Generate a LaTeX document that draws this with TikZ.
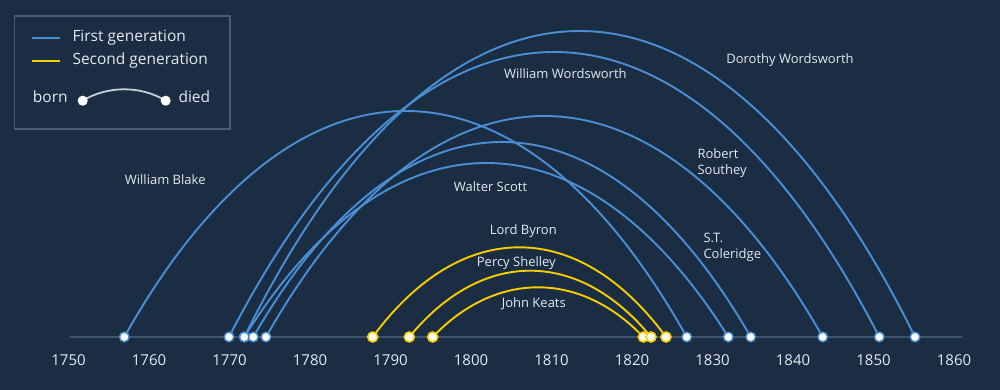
\documentclass[tikz,border=0pt]{standalone}
\usepackage{fontspec}
\setmainfont{Open Sans}
\definecolor{bgc}{HTML}{1B2D42}
\definecolor{axisc}{HTML}{3E546D}
\definecolor{bluec}{HTML}{4A8FD6}
\definecolor{yelc}{HTML}{F7CD00}
\definecolor{txtc}{HTML}{E4E9EE}
\definecolor{boxc}{HTML}{485C72}
\definecolor{legarc}{HTML}{C5CDD6}
\pgfdeclarelayer{bgl}
\pgfdeclarelayer{back}
\pgfsetlayers{bgl,back,main}
\tikzset{
  blueline/.style={draw=bluec, line width=1.9pt},
  yelline/.style={draw=yelc, line width=1.9pt},
  bdot/.style={circle, fill=white, draw=bluec, line width=1.4pt, minimum size=9.5pt, inner sep=0pt},
  ydot/.style={circle, fill=white, draw=yelc, line width=1.6pt, minimum size=10pt, inner sep=0pt},
  ldot/.style={circle, fill=white, draw=white, line width=1pt, minimum size=9pt, inner sep=0pt},
  yearlab/.style={text=txtc, font=\fontsize{15}{18}\selectfont, inner sep=0pt, text height=0.72em, text depth=0pt},
  namelab/.style={text=txtc, font=\fontsize{13}{16}\selectfont, inner sep=0pt, text height=0.72em, text depth=0pt},
  leglab/.style={text=txtc, font=\fontsize{15.5}{18}\selectfont, inner sep=0pt, text height=0.72em, text depth=0pt, anchor=west},
  axisline/.style={draw=axisc, line width=2pt},
  legbox/.style={draw=boxc, line width=1.2pt},
}
\newcommand\lifearc[6]{%
  \pgfmathsetmacro\ctla{#3+0.3*(#4-#3)}%
  \pgfmathsetmacro\ctlb{#4-0.3*(#4-#3)}%
  \pgfmathsetmacro\ctlh{53+4*#5/3}%
  \draw[#6] (#1.center) .. controls (\ctla,\ctlh) and (\ctlb,\ctlh) .. (#2.center);%
}
\begin{document}
\begin{tikzpicture}[x=1pt,y=1pt]
\begin{pgfonlayer}{bgl}
\fill[bgc] (0,0) rectangle (1000,390);
\end{pgfonlayer}
\useasboundingbox (0,0) rectangle (1000,390);

% axis
\coordinate (axL) at (70,53);
\coordinate (axR) at (962,53);
\begin{pgfonlayer}{back}
\draw[axisline] (axL) -- (axR);
\end{pgfonlayer}
\foreach \yr [count=\i from 0] in {1750,1760,1770,1780,1790,1800,1810,1820,1830,1840,1850,1860}{
  \node[yearlab] (y\yr) at ({68.5+80.5*\i},28) {\yr};
}

% dots: born / died
\node[bdot] (blakeB) at (124.3,53) {};
\node[bdot] (wwB) at (229,53) {};
\node[bdot] (dwB) at (244.3,53) {};
\node[bdot] (scottB) at (244.3,53) {};
\node[bdot] (colB) at (253.3,53) {};
\node[bdot] (southB) at (266,53) {};
\node[ydot] (byronB) at (372.7,53) {};
\node[ydot] (shelB) at (409.3,53) {};
\node[ydot] (keatsB) at (432.7,53) {};
\node[ydot] (keatsD) at (643.3,53) {};
\node[ydot] (shelD) at (651,53) {};
\node[ydot] (byronD) at (666,53) {};
\node[bdot] (blakeD) at (686.7,53) {};
\node[bdot] (scottD) at (728.3,53) {};
\node[bdot] (colD) at (750.7,53) {};
\node[bdot] (southD) at (822.7,53) {};
\node[bdot] (wwD) at (879.3,53) {};
\node[bdot] (dwD) at (915,53) {};

\begin{pgfonlayer}{back}
\lifearc{blakeB}{blakeD}{124.3}{686.7}{226}{blueline}
\lifearc{wwB}{wwD}{229}{879.3}{285}{blueline}
\lifearc{dwB}{dwD}{244.3}{915}{306}{blueline}
\lifearc{scottB}{scottD}{244.3}{728.3}{174}{blueline}
\lifearc{colB}{colD}{253.3}{750.7}{195}{blueline}
\lifearc{southB}{southD}{266}{822.7}{221}{blueline}
\lifearc{byronB}{byronD}{372.7}{666}{89.7}{yelline}
\lifearc{shelB}{shelD}{409.3}{651}{66.3}{yelline}
\lifearc{keatsB}{keatsD}{432.7}{643.3}{49.7}{yelline}
\end{pgfonlayer}

% names
\node[namelab] (nblake) at (165.2,209.3) {William Blake};
\node[namelab] (nww) at (565.3,315) {William Wordsworth};
\node[namelab] (ndw) at (790,330) {Dorothy Wordsworth};
\node[namelab] (nscott) at (490.5,202.3) {Walter Scott};
\node[namelab] (nbyron) at (523.3,159.3) {Lord Byron};
\node[namelab] (nshel) at (516.3,126.7) {Percy Shelley};
\node[namelab] (nkeats) at (533.8,85.7) {John Keats};
\node[namelab, align=left, anchor=north west, text height=, text depth=] (nsouth) at (697.3,241.2) {Robert\\Southey};
\node[namelab, align=left, anchor=north west, text height=, text depth=] (ncol) at (703.3,157.3) {S.T.\\Coleridge};

% legend
\draw[legbox] (14.3,261) rectangle (230,374);
\coordinate (lb1) at (32,352.3);
\coordinate (lb2) at (60,352.3);
\coordinate (ly1) at (32,329);
\coordinate (ly2) at (60,329);
\draw[blueline, line width=2.2pt] (lb1) -- (lb2);
\draw[yelline, line width=2.2pt] (ly1) -- (ly2);
\node[leglab] (lfirst) at (72.3,352.3) {First generation};
\node[leglab] (lsecond) at (72.3,329) {Second generation};
\node[leglab] (lborn) at (32.7,291) {born};
\node[leglab] (ldied) at (178.3,291) {died};
\node[ldot] (ld1) at (82.7,289.3) {};
\node[ldot] (ld2) at (165.7,289.3) {};
\begin{pgfonlayer}{back}
\draw[draw=legarc, line width=1.8pt] (ld1.center) .. controls (107.6,304.5) and (140.8,304.5) .. (ld2.center);
\end{pgfonlayer}
\end{tikzpicture}
\end{document}
